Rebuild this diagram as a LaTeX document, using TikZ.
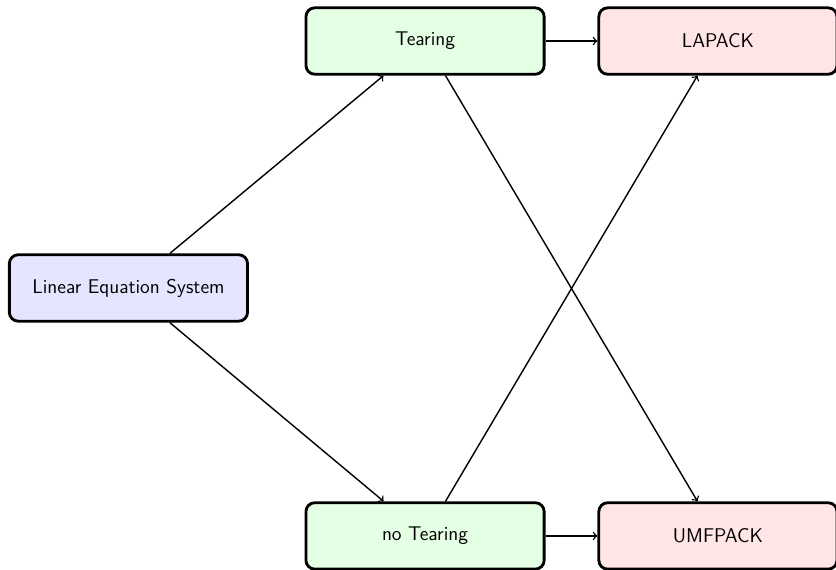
\documentclass[tikz,border=0pt]{standalone}
\usetikzlibrary{arrows}

\tikzset{
  solverbox/.style={draw, ultra thick, rounded corners=5pt, minimum width=134.5pt, minimum height=37.5pt, font=\sffamily\fontsize{11.2}{13}\selectfont},
  flow/.style={->, thick},
}

\begin{document}
\begin{tikzpicture}[x=0.75pt,y=0.75pt,yscale=-1,xscale=1]
\useasboundingbox (0,0) rectangle (629.4,429.1);

% Nodes
\node [solverbox, fill=blue!10] (les) at (96.7,216.8) {Linear Equation System};
\node [solverbox, fill=green!10] (tear) at (320,30.9) {Tearing};
\node [solverbox, fill=green!10] (notear) at (320,403.5) {no Tearing};
\node [solverbox, fill=red!10] (lapack) at (540.5,30.9) {LAPACK};
\node [solverbox, fill=red!10] (umfpack) at (540.5,403.5) {UMFPACK};

% Connectors
\draw [flow] (les) -- (tear);
\draw [flow] (les) -- (notear);
\draw [flow] (tear) -- (lapack);
\draw [flow] (tear) -- (umfpack);
\draw [flow] (notear) -- (lapack);
\draw [flow] (notear) -- (umfpack);

\end{tikzpicture}
\end{document}
